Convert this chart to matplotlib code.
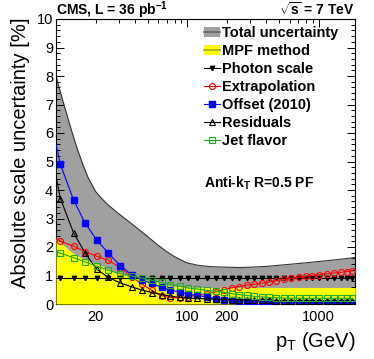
import matplotlib
matplotlib.use("Agg")
import matplotlib.pyplot as plt
from matplotlib.lines import Line2D
from matplotlib.patches import Patch
from matplotlib.ticker import AutoMinorLocator, LogLocator, FixedLocator, FuncFormatter

plt.rcParams['font.family'] = ['Liberation Sans', 'DejaVu Sans']
plt.rcParams['mathtext.fontset'] = 'custom'
plt.rcParams['mathtext.rm'] = 'Liberation Sans'
plt.rcParams['mathtext.bf'] = 'Liberation Sans:bold'
plt.rcParams['mathtext.it'] = 'Liberation Sans:italic'

# ---------------- data ----------------
pt = [10, 10.8, 13.6, 16.6, 20.4, 25.1, 30.8, 37.8, 45.0, 53.7, 64.0, 74.2,
      88.4, 102, 118, 140, 164, 189, 219, 246, 285, 321, 371, 418, 470, 544,
      611, 707, 796, 894, 1005, 1163, 1309, 1472, 1653, 1805]

photon_scale = [0.9, 0.9, 0.9, 0.9, 0.9, 0.9, 0.9, 0.9, 0.9, 0.9, 0.9, 0.9,
                0.9, 0.9, 0.9, 0.9, 0.9, 0.9, 0.9, 0.9, 0.9, 0.9, 0.9, 0.9,
                0.9, 0.9, 0.9, 0.9, 0.9, 0.9, 0.9, 0.9, 0.9, 0.9, 0.9, 0.9]

extrapolation = [2.3, 2.2, 2.03, 1.84, 1.68, 1.53, 1.28, 0.95, 0.7, 0.48, 0.29, 0.22,
                 0.22, 0.26, 0.31, 0.36, 0.42, 0.5, 0.57, 0.61, 0.66, 0.69, 0.73, 0.77,
                 0.81, 0.86, 0.9, 0.94, 0.97, 1.0, 1.03, 1.06, 1.09, 1.11, 1.14, 1.17]

offset_2010 = [5.6, 4.9, 3.65, 2.85, 2.25, 1.78, 1.35, 1.02, 0.85, 0.72, 0.58, 0.5,
               0.41, 0.35, 0.3, 0.25, 0.19, 0.15, 0.13, 0.11, 0.09, 0.08, 0.07, 0.06,
               0.05, 0.05, 0.04, 0.04, 0.04, 0.03, 0.03, 0.03, 0.03, 0.02, 0.02, 0.02]

residuals = [4.5, 3.7, 2.5, 1.8, 1.22, 0.93, 0.74, 0.6, 0.49, 0.4, 0.33, 0.28,
             0.23, 0.2, 0.2, 0.18, 0.17, 0.16, 0.15, 0.15, 0.14, 0.14, 0.13, 0.13,
             0.12, 0.12, 0.12, 0.11, 0.11, 0.11, 0.1, 0.1, 0.1, 0.1, 0.1, 0.1]

jet_flavor = [1.85, 1.78, 1.63, 1.48, 1.33, 1.18, 1.06, 0.98, 0.91, 0.83, 0.76, 0.68,
              0.62, 0.56, 0.53, 0.48, 0.45, 0.41, 0.36, 0.33, 0.3, 0.27, 0.25, 0.23,
              0.22, 0.21, 0.2, 0.2, 0.2, 0.2, 0.2, 0.2, 0.2, 0.2, 0.2, 0.2]

band_pt = [10, 11, 12, 13.2, 14.5, 16, 17.5, 20, 22.5, 25, 30, 35, 40, 50, 60, 70,
           80, 90, 100, 120, 150, 200, 250, 300, 400, 500, 700, 1000, 1400, 1900]
total_unc = [8.0, 7.3, 6.7, 6.05, 5.45, 4.9, 4.45, 3.95, 3.68, 3.47, 3.17, 2.93, 2.72,
             2.36, 2.06, 1.83, 1.66, 1.54, 1.44, 1.36, 1.31, 1.29, 1.28, 1.29, 1.32,
             1.36, 1.42, 1.49, 1.56, 1.63]
mpf_method = [2.3, 2.12, 1.98, 1.82, 1.7, 1.6, 1.52, 1.42, 1.33, 1.22, 1.1, 0.98,
              0.92, 0.84, 0.76, 0.67, 0.63, 0.61, 0.6, 0.58, 0.58, 0.58, 0.58, 0.58,
              0.58, 0.58, 0.58, 0.58, 0.58, 0.58]

# ---------------- figure ----------------
W, H = 374, 359
fig = plt.figure(figsize=(W / 100, H / 100), dpi=100)
ax = fig.add_axes([56 / W, 1 - 304 / H, (355 - 56) / W, (304 - 19) / H])

gray = '#a0a0a0'
total_line = '#333333'
yellow = '#ffff00'
red = '#ff0000'
blue = '#0000ff'
green = '#22aa22'

ax.fill_between(band_pt, 0, total_unc, color=gray, lw=0, zorder=1)
ax.plot(band_pt, total_unc, color=total_line, lw=0.8, zorder=2)
ax.fill_between(band_pt, 0, mpf_method, color=yellow, lw=0, zorder=3)

me = slice(1, None)
lw = 0.8
ax.plot(pt, photon_scale, color='black', lw=lw, marker='v', ms=3.2, mfc='black',
        mec='black', markevery=me, zorder=5)
ax.plot(pt, extrapolation, color=red, lw=lw, marker='o', ms=4.3, mfc='none',
        mec=red, mew=0.8, markevery=me, zorder=5)
ax.plot(pt, offset_2010, color=blue, lw=lw, marker='s', ms=3.8, mfc=blue,
        mec=blue, markevery=me, zorder=5)
ax.plot(pt, residuals, color='black', lw=lw, marker='^', ms=4.3, mfc='none',
        mec='black', mew=0.8, markevery=me, zorder=5)
ax.plot(pt, jet_flavor, color=green, lw=lw, marker='s', ms=4.0, mfc='none',
        mec=green, mew=0.8, markevery=me, zorder=5)

ax.set_xscale('log')
ax.set_xlim(10, 1890)
ax.set_ylim(0, 10)

# ticks
ax.yaxis.set_major_locator(FixedLocator(range(0, 11)))
ax.yaxis.set_minor_locator(AutoMinorLocator(5))
ax.xaxis.set_major_locator(FixedLocator([10, 100, 1000]))
ax.xaxis.set_minor_locator(LogLocator(base=10, subs=[2, 3, 4, 5, 6, 7, 8, 9], numticks=20))
ax.xaxis.set_major_formatter(FuncFormatter(lambda v, p: {100: '100', 1000: '1000'}.get(int(round(v)), '')))
ax.xaxis.set_minor_formatter(FuncFormatter(lambda v, p: {20: '20', 200: '200'}.get(int(round(v)), '')))
ax.tick_params(which='both', direction='in', top=True, right=True, labelsize=10.5, width=0.7)
ax.tick_params(which='major', length=6)
ax.tick_params(which='minor', length=3)
ax.tick_params(axis='x', which='both', pad=4)
ax.tick_params(axis='y', which='both', pad=2)
for s in ax.spines.values():
    s.set_linewidth(0.8)

# labels
fig.text(21 / W, 1 - 18 / H, 'Absolute scale uncertainty [%]', rotation=90,
         ha='center', va='top', fontsize=14.5)
fig.text(355 / W, 1 - 347 / H, r'p$_{\mathrm{T}}$ (GeV)', ha='right', va='baseline', fontsize=14.5)

fig.text(56 / W, 1 - 15 / H, r'CMS, L = 36 pb$^{\mathbf{-1}}$', ha='left', va='baseline',
         fontsize=10, fontweight='bold')
fig.text(354 / W, 1 - 15 / H, r'$\sqrt{\mathbf{s}}$ = 7 TeV', ha='right', va='baseline',
         fontsize=10, fontweight='bold')
ax.text((204 - 56) / 299, (304 - 183) / 285, r'Anti-k$_{\mathbf{T}}$ R=0.5 PF',
        transform=ax.transAxes, ha='left', va='center', fontsize=10, fontweight='bold')

# legend
handles = [
    (Patch(facecolor=gray, edgecolor='none'), Line2D([], [], color='#666666', lw=1.2)),
    (Patch(facecolor=yellow, edgecolor='none'), Line2D([], [], color='#aaaa00', lw=1.2)),
    Line2D([], [], color='black', lw=lw, marker='v', ms=3.2, mfc='black', mec='black'),
    Line2D([], [], color=red, lw=lw, marker='o', ms=4.3, mfc='none', mec=red, mew=0.8),
    Line2D([], [], color=blue, lw=lw, marker='s', ms=3.8, mfc=blue, mec=blue),
    Line2D([], [], color='black', lw=lw, marker='^', ms=4.3, mfc='none', mec='black', mew=0.8),
    Line2D([], [], color=green, lw=lw, marker='s', ms=4.0, mfc='none', mec=green, mew=0.8),
]
labels = ['Total uncertainty', 'MPF method', 'Photon scale', 'Extrapolation',
          'Offset (2010)', 'Residuals', 'Jet flavor']
leg = ax.legend(handles, labels, loc='upper left',
                bbox_to_anchor=((204 - 56) / 299, (304 - 26) / 285),
                frameon=False, borderpad=0, borderaxespad=0, handlelength=1.1,
                handletextpad=0.15, labelspacing=0.27, numpoints=1,
                prop={'weight': 'bold', 'size': 10.5})
leg.set_zorder(10)

fig.savefig('out.png', dpi=100)
